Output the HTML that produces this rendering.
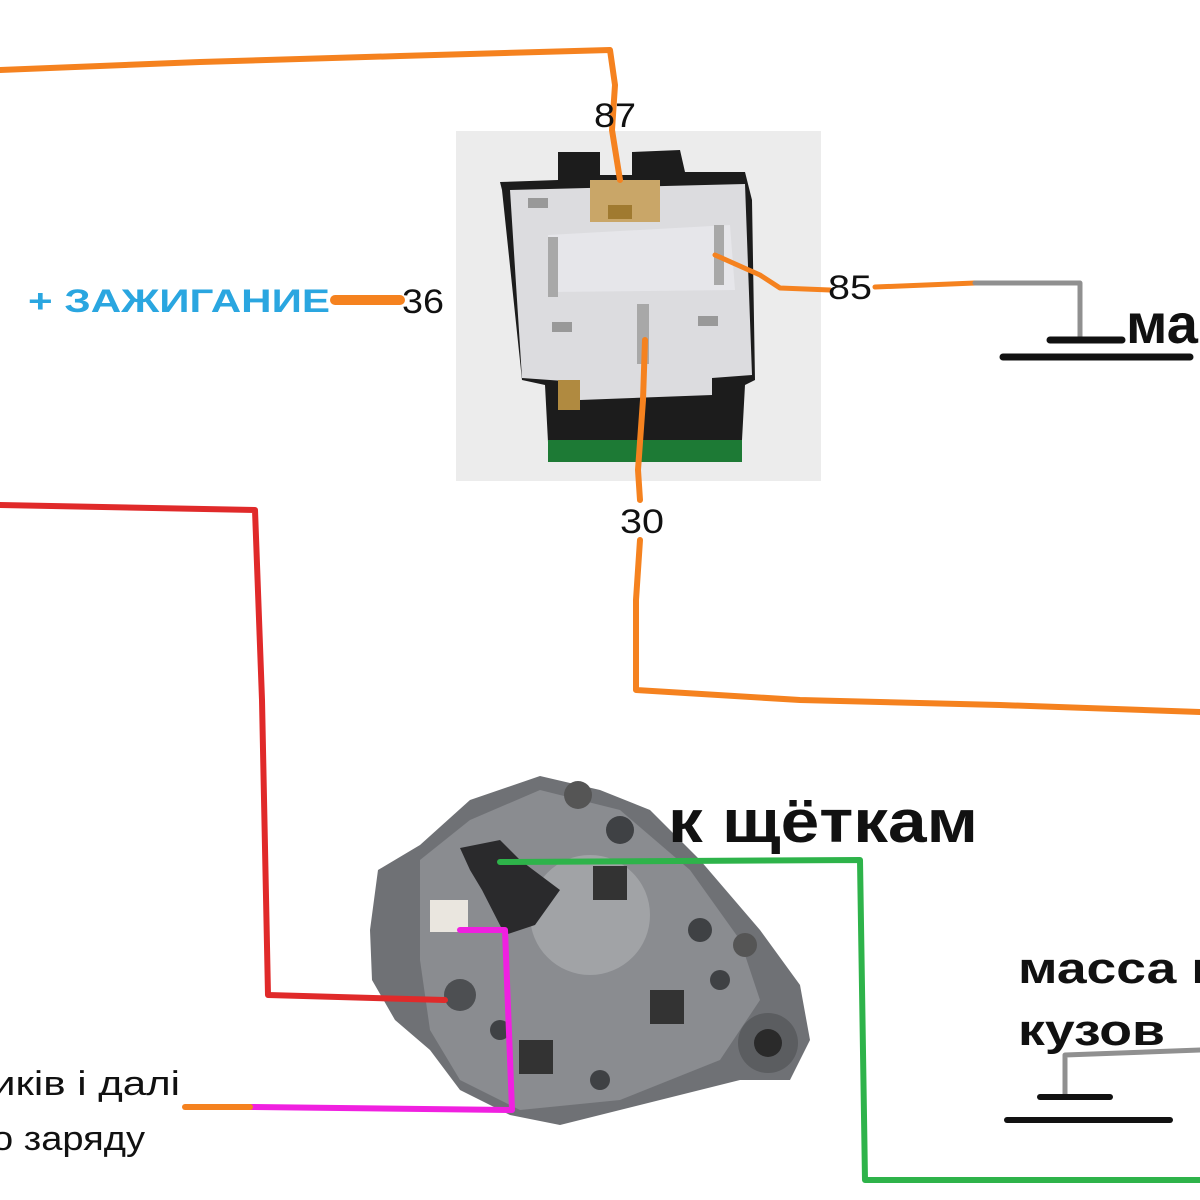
<!DOCTYPE html>
<html><head><meta charset="utf-8"><style>
html,body{margin:0;padding:0;background:#fff;}
svg{display:block}
</style></head><body>
<svg width="1200" height="1200" viewBox="0 0 1200 1200" xmlns="http://www.w3.org/2000/svg">
<rect x="456" y="131" width="365" height="350" fill="#ececec"/>
<path d="M500 182 L558 180 L558 152 L600 152 L600 175 L632 175 L632 152 L680 150 L685 172 L745 172 L752 200 L755 380 L745 385 L742 440 L548 442 L545 385 L522 380 L502 190 Z" fill="#1c1c1c"/>
<rect x="548" y="440" width="194" height="22" fill="#1d7a35"/>
<path d="M510 190 L745 184 L752 375 L712 378 L712 395 L580 400 L578 382 L522 378 Z" fill="#dcdcdf"/>
<path d="M548 235 L730 225 L735 290 L550 292 Z" fill="#e6e6ea"/>
<rect x="590" y="180" width="70" height="42" fill="#c9a668"/>
<rect x="608" y="205" width="24" height="14" fill="#a07a30"/>
<rect x="548" y="237" width="10" height="60" fill="#a8a8a8"/>
<rect x="714" y="225" width="10" height="60" fill="#a8a8a8"/>
<rect x="637" y="304" width="12" height="60" fill="#a8a8a8"/>
<rect x="552" y="322" width="20" height="10" fill="#999"/>
<rect x="698" y="316" width="20" height="10" fill="#999"/>
<rect x="528" y="198" width="20" height="10" fill="#999"/>
<rect x="558" y="380" width="22" height="30" fill="#b08a40"/>

<path d="M378 870 L420 845 L470 800 L540 776 L600 790 L650 810 L700 860 L760 930 L800 985 L810 1040 L790 1080 L740 1080 L660 1100 L560 1125 L510 1115 L460 1090 L430 1050 L395 1020 L372 980 L370 930 Z" fill="#6f7175"/>
<path d="M420 860 L470 820 L540 790 L620 810 L690 870 L740 940 L760 1000 L720 1060 L620 1100 L520 1110 L460 1080 L430 1030 L420 960 Z" fill="#8a8c90"/>
<circle cx="590" cy="915" r="60" fill="#a1a3a6"/>
<circle cx="768" cy="1043" r="30" fill="#5b5d60"/>
<circle cx="768" cy="1043" r="14" fill="#2a2a2a"/>
<path d="M460 848 L500 840 L520 860 L560 890 L535 925 L505 935 L482 890 L470 870 Z" fill="#2a2a2c"/>
<rect x="430" y="900" width="38" height="32" fill="#eae6df"/>
<circle cx="460" cy="995" r="16" fill="#4d4f52"/>
<circle cx="578" cy="795" r="14" fill="#555"/>
<rect x="593" y="866" width="34" height="34" fill="#333"/>
<rect x="650" y="990" width="34" height="34" fill="#333"/>
<rect x="519" y="1040" width="34" height="34" fill="#333"/>
<circle cx="620" cy="830" r="14" fill="#3f4144"/>
<circle cx="700" cy="930" r="12" fill="#3f4144"/>
<circle cx="720" cy="980" r="10" fill="#3f4144"/>
<circle cx="500" cy="1030" r="10" fill="#3f4144"/>
<circle cx="600" cy="1080" r="10" fill="#3f4144"/>
<circle cx="745" cy="945" r="12" fill="#555"/>

<g fill="none" stroke-linecap="round" stroke-linejoin="round">
<path d="M0 70 L200 62 L400 56 L610 50 L615 85 L612 130 L620 180" stroke="#f5821f" stroke-width="6"/>
<path d="M715 255 L760 275 L780 288 L830 290" stroke="#f5821f" stroke-width="5"/>
<path d="M875 287 L975 283" stroke="#f5821f" stroke-width="5"/>
<path d="M975 283 L1080 283 L1080 340" stroke="#909090" stroke-width="5"/>
<path d="M645 340 L643 400 L638 470 L640 500" stroke="#f5821f" stroke-width="6"/>
<path d="M640 540 L636 600 L636 690 L800 700 L1000 705 L1200 712" stroke="#f5821f" stroke-width="6"/>
<path d="M335 300 L400 300" stroke="#f5821f" stroke-width="10"/>
<path d="M0 505 L255 510 L262 700 L268 995 L445 1000" stroke="#e02a2a" stroke-width="6"/>
<path d="M500 862 L860 860 L865 1180 L1200 1180" stroke="#2eb34a" stroke-width="6"/>
<path d="M460 930 L505 930 L512 1110 L250 1107" stroke="#f020e0" stroke-width="6"/>
<path d="M185 1107 L250 1107" stroke="#f5821f" stroke-width="6"/>
<path d="M1200 1050 L1065 1055 L1065 1095" stroke="#909090" stroke-width="5"/>
</g>
<g stroke="#111" stroke-linecap="round">
<line x1="1050" y1="340" x2="1122" y2="340" stroke-width="7"/>
<line x1="1003" y1="357" x2="1190" y2="357" stroke-width="7"/>
<line x1="1040" y1="1097" x2="1110" y2="1097" stroke-width="6"/>
<line x1="1007" y1="1120" x2="1170" y2="1120" stroke-width="6"/>
</g>
<g font-family="Liberation Sans, DejaVu Sans, sans-serif">
<text x="594" y="127" font-size="34" fill="#111" textLength="42" lengthAdjust="spacingAndGlyphs">87</text>
<text x="402" y="313" font-size="34" fill="#111" textLength="42" lengthAdjust="spacingAndGlyphs">36</text>
<text x="828" y="299" font-size="34" fill="#111" textLength="44" lengthAdjust="spacingAndGlyphs">85</text>
<text x="620" y="533" font-size="34" fill="#111" textLength="44" lengthAdjust="spacingAndGlyphs">30</text>
<text x="28" y="312" font-size="32" font-weight="bold" fill="#2aa6e0" textLength="302" lengthAdjust="spacingAndGlyphs">+ ЗАЖИГАНИЕ</text>
<text x="1126" y="343" font-size="56" font-weight="bold" fill="#111">ма</text>
<text x="668" y="842" font-size="60" font-weight="bold" fill="#111" textLength="310" lengthAdjust="spacingAndGlyphs">к щёткам</text>
<text x="1018" y="983" font-size="44" font-weight="bold" fill="#111" textLength="200" lengthAdjust="spacingAndGlyphs">масса к</text>
<text x="1018" y="1045" font-size="44" font-weight="bold" fill="#111" textLength="147" lengthAdjust="spacingAndGlyphs">кузов</text>
<text x="-8" y="1095" font-size="34" fill="#111" textLength="188" lengthAdjust="spacingAndGlyphs">иків і далі</text>
<text x="-8" y="1150" font-size="34" fill="#111" textLength="153" lengthAdjust="spacingAndGlyphs">о заряду</text>
</g>
</svg>
</body></html>
